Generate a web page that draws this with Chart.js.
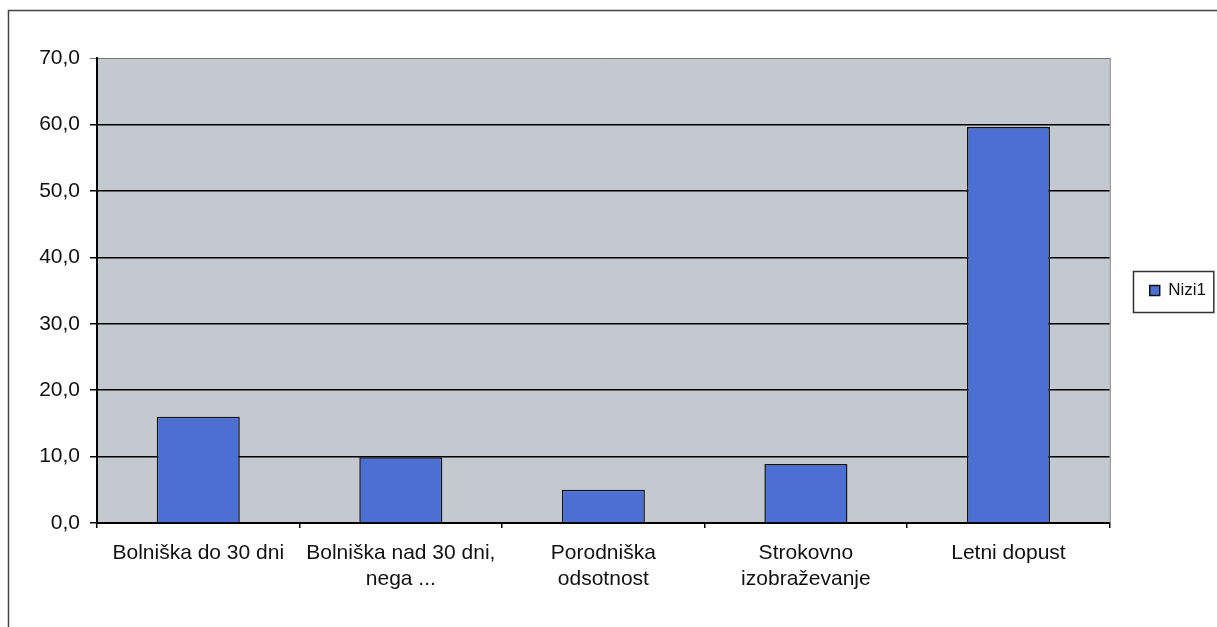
<!DOCTYPE html>
<html>
<head>
<meta charset="utf-8">
<style>
  body { margin: 0; background: #fff; }
  canvas { display: block; }
</style>
<script src="https://cdn.jsdelivr.net/npm/chart.js@4"></script>
</head>
<body>
<canvas id="chart" width="1217" height="627"></canvas>
<script>
const categories = [
  ['Bolniška do 30 dni'],
  ['Bolniška nad 30 dni,', 'nega ...'],
  ['Porodniška', 'odsotnost'],
  ['Strokovno', 'izobraževanje'],
  ['Letni dopust']
];
const seriesName = 'Nizi1';
const seriesValues = [16.0, 9.9, 5.0, 8.9, 59.6];
const yTicks = [0, 10, 20, 30, 40, 50, 60, 70];

const FONT = 'Liberation Sans, Arial, sans-serif';

// gray plot background, frame around the whole figure, box around legend
const decorations = {
  id: 'decorations',
  afterLayout(chart) {
    // center the legend on the plot area instead of the whole canvas
    const L = chart.legend, a = chart.chartArea;
    if (!L) return;
    const delta = (a.top + a.bottom) / 2 - (L.top + L.bottom) / 2;
    L.top += delta;
    L.bottom += delta;
    L.legendHitBoxes.forEach(hb => { hb.top += delta; });
  },
  beforeDraw(chart) {
    const { ctx, chartArea: a } = chart;
    ctx.save();
    ctx.fillStyle = '#c3c9cf';
    ctx.fillRect(a.left, a.top, a.right - a.left, a.bottom - a.top);
    ctx.strokeStyle = '#444';
    ctx.lineWidth = 1.5;
    ctx.strokeRect(8.5, 10.5, 1400, 800);
    ctx.restore();
  },
  beforeDatasetsDraw(chart) {
    const { ctx, chartArea: a } = chart;
    ctx.save();
    ctx.strokeStyle = '#777';
    ctx.lineWidth = 1;
    ctx.beginPath();
    ctx.moveTo(a.right + 0.5, a.top);
    ctx.lineTo(a.right + 0.5, a.bottom);
    ctx.stroke();
    ctx.restore();
  },
  afterDraw(chart) {
    const L = chart.legend;
    const hb = L && L.legendHitBoxes[0];
    if (!hb) return;
    const { ctx } = chart;
    const cy = (L.top + L.bottom) / 2;
    ctx.save();
    ctx.strokeStyle = '#333';
    ctx.lineWidth = 1.5;
    ctx.strokeRect(Math.round(hb.left - 17) + 0.5, Math.round(cy - 20) + 0.5, hb.width + 24, 41);
    ctx.restore();
  }
};

new Chart(document.getElementById('chart'), {
  type: 'bar',
  data: {
    labels: categories,
    datasets: [{
      label: seriesName,
      data: seriesValues,
      backgroundColor: '#4b6fd3',
      borderColor: '#111',
      borderWidth: 1.5,
      barPercentage: 0.41,
      categoryPercentage: 1
    }]
  },
  options: {
    responsive: false,
    animation: false,
    layout: { padding: { left: 0, top: 58, right: 1, bottom: 30 } },
    plugins: {
      legend: {
        position: 'right',
        labels: {
          boxWidth: 10,
          boxHeight: 10,
          padding: 40,
          color: '#111',
          font: { family: FONT, size: 17 }
        }
      },
      tooltip: { enabled: false }
    },
    scales: {
      x: {
        afterFit(scale) { scale.height = 74; },
        grid: {
          display: true,
          drawOnChartArea: false,
          drawTicks: true,
          tickLength: 5,
          color: '#000',
          lineWidth: 1.5
        },
        border: { display: true, color: '#000', width: 2 },
        ticks: {
          padding: 13,
          maxRotation: 0,
          autoSkip: false,
          color: '#111',
          font: { family: FONT, size: 21, lineHeight: 1.2 }
        }
      },
      y: {
        min: 0,
        max: 70,
        afterFit(scale) { scale.width = 97; },
        afterBuildTicks(scale) { scale.ticks = yTicks.map(v => ({ value: v })); },
        grid: {
          color: c => (c.tick && c.tick.value === 70 ? '#777' : '#000'),
          lineWidth: c => (c.tick && c.tick.value === 70 ? 1 : 1.5),
          tickLength: 7
        },
        border: { display: true, color: '#000', width: 2 },
        ticks: {
          padding: 10,
          color: '#111',
          font: { family: FONT, size: 21 },
          callback: v => v.toFixed(1).replace('.', ',')
        }
      }
    }
  },
  plugins: [decorations]
});
</script>
</body>
</html>
